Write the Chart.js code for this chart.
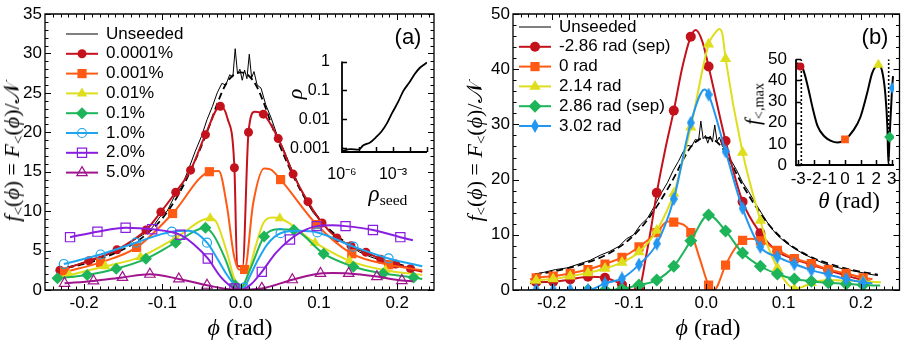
<!DOCTYPE html>
<html>
<head>
<meta charset="utf-8">
<script src="https://cdn.jsdelivr.net/npm/chart.js@4.4.1/dist/chart.umd.min.js"></script>
<style>
  html, body { margin: 0; padding: 0; background: #fff; }
  #wrap { position: relative; width: 906px; height: 342px; overflow: hidden; }
  canvas { position: absolute; }
  .t { position: absolute; white-space: nowrap; color: #000; transform: translate(-50%, -50%);
       font-family: "Liberation Serif", "DejaVu Serif", serif; }
  .rot { transform: translate(-50%, -50%) rotate(-90deg); }
  .t sub { font-size: 68%; vertical-align: -0.28em; line-height: 0; }
  .lab { position: absolute; transform: translate(-50%, -50%); font-family: "Liberation Sans", Arial, sans-serif; font-size: 22px; }
</style>
</head>
<body>
<div id="wrap">
  <canvas id="ca" width="453" height="342" style="left:0;top:0"></canvas>
  <canvas id="cb" width="453" height="342" style="left:453px;top:0"></canvas>
  <canvas id="ia" width="160" height="170" style="left:280px;top:40px"></canvas>
  <canvas id="ib" width="160" height="175" style="left:746px;top:40px"></canvas>

  <div class="t rot" style="left:12px;top:152px;font-size:22px"><i>f</i><sub>&lt;</sub>(<i>ϕ</i>) = <i>F</i><sub>&lt;</sub>(<i>ϕ</i>)/𝒩</div>
  <div class="t rot" style="left:475px;top:152px;font-size:22px"><i>f</i><sub>&lt;</sub>(<i>ϕ</i>) = <i>F</i><sub>&lt;</sub>(<i>ϕ</i>)/𝒩</div>
  <div class="t" style="left:240px;top:327px;font-size:24px"><i>ϕ</i> (rad)</div>
  <div class="t" style="left:708px;top:327px;font-size:24px"><i>ϕ</i> (rad)</div>
  <div class="lab" style="left:408px;top:37px">(a)</div>
  <div class="lab" style="left:875px;top:37px">(b)</div>
  <div class="t rot" style="left:295px;top:94px;font-size:22px"><i>ρ</i></div>
  <div class="t" style="left:388px;top:194px;font-size:23px"><i>ρ</i><sub>seed</sub></div>
  <div class="t rot" style="left:753px;top:104px;font-size:21px"><i>f</i><sub>&lt;,max</sub></div>
  <div class="t" style="left:849px;top:201px;font-size:23px"><i>θ</i> (rad)</div>
</div>

<script>
// ---------- axis ticks ----------
const phiTicks = [-0.2, -0.1, 0, 0.1, 0.2];
const fTicksA = [0, 5, 10, 15, 20, 25, 30, 35];
const fTicksB = [0, 10, 20, 30, 40, 50];

// ---------- shared: unseeded run and its fit ----------
const phiUnseeded = [-0.222, -0.210, -0.195, -0.180, -0.165, -0.150, -0.137, -0.125, -0.113, -0.103, -0.094, -0.085,
  -0.076, -0.067, -0.058, -0.050, -0.043, -0.036, -0.030, -0.024, -0.019, -0.014, -0.010, -0.007, -0.004, -0.001,
  0.002, 0.005, 0.008, 0.011, 0.014, 0.017, 0.021, 0.026, 0.032, 0.039, 0.047, 0.055, 0.064, 0.073, 0.082, 0.092,
  0.102, 0.113, 0.125, 0.138, 0.152, 0.166, 0.181, 0.196, 0.210, 0.222];
const fUnseeded = [2.9, 3.2, 3.7, 4.0, 4.7, 5.4, 6.3, 7.0, 7.9, 9.3, 10.0, 11.8,
  13.0, 15.2, 17.6, 19.5, 21.6, 23.3, 25.0, 26.2, 26.0, 27.3, 27.0, 30.6, 27.4, 28.0,
  26.6, 27.9, 26.8, 29.9, 26.9, 27.7, 26.0, 25.6, 23.5, 21.8, 19.5, 17.8, 15.6, 13.6, 11.6, 9.9,
  8.7, 7.6, 6.6, 5.7, 4.8, 4.2, 3.7, 3.3, 2.9, 2.6];
const phiFit = [-0.222, -0.20, -0.18, -0.16, -0.14, -0.12, -0.10, -0.08, -0.06, -0.04, -0.03, -0.02, -0.01, 0,
  0.01, 0.02, 0.03, 0.04, 0.06, 0.08, 0.10, 0.12, 0.14, 0.16, 0.18, 0.20, 0.222];
const fFit = [2.8, 3.3, 3.9, 4.7, 5.7, 7.1, 9.1, 12.0, 16.0, 20.8, 23.6, 25.9, 27.2, 27.6,
  27.2, 25.9, 23.6, 20.8, 16.0, 12.0, 9.1, 7.1, 5.7, 4.7, 3.9, 3.3, 2.8];

// ---------- panel (a): seed fraction ----------
// marker points (x, y) and extra line-only points (ex, ey)
const a1x = [-0.231, -0.194, -0.158, -0.121, -0.102, -0.083, -0.064, -0.045, -0.026, -0.008, 0.010, 0.029, 0.048, 0.067, 0.086, 0.104, 0.123, 0.141, 0.160, 0.179, 0.198, 0.217];
const a1y = [2.5, 3.7, 5.1, 7.6, 9.9, 12.4, 15.2, 19.7, 23.3, 15.5, 20.0, 22.3, 19.2, 14.7, 11.2, 8.5, 6.6, 5.6, 4.8, 3.9, 3.3, 2.7];
const a1ex = [-0.017, -0.0045, 0.0025, 0.018, 0.232];
const a1ey = [21.8, 3.0, 3.0, 22.6, 2.3];

const a2x = [-0.225, -0.179, -0.133, -0.087, -0.040, 0.005, 0.051, 0.097, 0.142, 0.189];
const a2y = [2.3, 3.5, 5.4, 9.7, 15.0, 2.6, 14.0, 8.3, 4.6, 3.2];
const a2ex = [-0.028, -0.0175, -0.009, -0.002, 0.016, 0.030, 0.038, 0.232];
const a2ey = [15.1, 10.6, 4.6, 2.6, 11.0, 15.4, 15.3, 2.5];

const a3x = [-0.219, -0.173, -0.128, -0.083, -0.039, 0.004, 0.050, 0.095, 0.139, 0.185];
const a3y = [1.9, 3.0, 4.2, 6.6, 9.1, 0.3, 9.1, 6.0, 3.7, 2.5];
const a3ex = [-0.232, -0.031, -0.017, -0.009, 0.009, 0.019, 0.029, 0.040, 0.232];
const a3ey = [1.6, 8.6, 4.6, 1.7, 1.8, 5.5, 8.5, 9.2, 1.9];

const a4x = [-0.234, -0.196, -0.159, -0.121, -0.083, -0.045, -0.007, 0.030, 0.068, 0.106, 0.144, 0.182, 0.221];
const a4y = [1.5, 1.9, 2.7, 3.95, 6.0, 7.9, 0.6, 6.8, 7.6, 4.6, 2.95, 2.1, 1.6];
const a4ex = [-0.035, -0.020, -0.001, 0.012, 0.047, 0.232];
const a4ey = [7.0, 4.0, 0.1, 2.6, 7.7, 1.4];

const a5x = [-0.226, -0.179, -0.134, -0.088, -0.043, 0.004, 0.051, 0.098, 0.144, 0.189];
const a5y = [3.3, 4.5, 6.0, 7.4, 6.0, 0.3, 7.2, 7.3, 5.5, 4.0];
const a5ex = [-0.066, -0.030, -0.018, -0.008, 0.012, 0.022, 0.034, 0.075, 0.232];
const a5ey = [7.5, 4.0, 2.0, 0.7, 1.8, 3.8, 5.8, 7.5, 3.0];

const a6x = [-0.218, -0.183, -0.147, -0.113, -0.077, -0.042, -0.008, 0.027, 0.063, 0.097, 0.134, 0.169, 0.204];
const a6y = [6.7, 7.4, 7.9, 7.7, 7.0, 4.0, 0.2, 2.3, 6.4, 8.1, 8.1, 7.6, 6.7];
const a6ex = [-0.060, -0.025, 0.000, 0.014, 0.045, 0.080, 0.117, 0.220];
const a6ey = [5.8, 1.6, 0.0, 0.8, 4.7, 7.5, 8.2, 6.3];

const a7x = [-0.225, -0.188, -0.151, -0.116, -0.079, -0.043, -0.007, 0.027, 0.066, 0.102, 0.138, 0.174, 0.206];
const a7y = [0.85, 1.15, 1.6, 2.0, 1.4, 0.6, 0.05, 0.2, 1.3, 2.1, 2.1, 1.7, 1.2];
const a7ex = [0.118, 0.220];
const a7ey = [2.15, 1.1];

// ---------- panel (b): seed angle ----------
const phiGridB = [-0.220, -0.198, -0.176, -0.153, -0.131, -0.109, -0.087, -0.064, -0.042, -0.020,
  0.003, 0.025, 0.047, 0.070, 0.092, 0.114, 0.136, 0.158, 0.181, 0.203];
const b1y = [1.4, 1.5, 1.9, 2.4, 2.2, 1.0, 0.2, 17.6, 32.5, 45.9, 40.5, 27.0, 16.0, 10.3, 7.0, 5.6, 4.6, 3.6, 2.6, 1.8];
const b1ex = [-0.228, -0.096, -0.078, -0.071, -0.053, -0.031, -0.0135, -0.005, 0.213];
const b1ey = [1.2, 0.0, 6.0, 11.5, 25.5, 40.3, 47.1, 45.0, 1.5];
const b2y = [2.2, 2.5, 3.0, 3.7, 4.7, 5.9, 7.8, 10.4, 12.3, 10.4, 0.9, 4.5, 9.0, 8.9, 7.2, 5.7, 4.8, 3.7, 3.0, 2.2];
const b2ex = [-0.228, -0.050, -0.008, 0.010, 0.036, 0.058, 0.215];
const b2ey = [1.9, 12.4, 5.5, 0.0, 7.3, 9.3, 2.0];
const b3y = [1.7, 2.0, 2.5, 3.1, 3.9, 5.0, 6.9, 10.8, 17.5, 29.5, 44.5, 41.9, 24.9, 12.6, 4.0, 0.2, 1.3, 1.8, 1.7, 1.6];
const b3ex = [-0.228, 0.011, 0.017, 0.021, 0.080, 0.104, 0.125, 0.226];
const b3ey = [1.4, 46.5, 47.3, 46.3, 7.8, 1.3, 0.6, 1.4];
const b4y = [null, null, null, 0.0, 0.0, 0.2, 0.9, 1.8, 4.3, 8.9, 13.6, 10.7, 6.7, 4.3, 2.9, 2.0, 1.6, 1.3, 1.1, 0.9];
const b4ex = [0.225];
const b4ey = [0.8];
const b5y = [0.0, 0.0, 0.0, 0.0, 1.2, 2.1, 4.6, 8.4, 16.5, 30.3, 35.4, 25.1, 14.8, 7.8, 6.0, 4.7, 3.6, 2.8, 2.0, 1.4];
const b5ex = [-0.228, -0.002, 0.215];
const b5ey = [0.0, 36.3, 1.2];

// ---------- inset (a): rho vs rho_seed ----------
const rhoSeed = [1e-6, 3.1e-6, 9.3e-6, 1.8e-5, 4.5e-5, 9.5e-5, 2.1e-4, 4.3e-4, 9.1e-4, 2.0e-3, 4.0e-3, 9.8e-3, 1.9e-2, 3.7e-2, 7.2e-2, 1e-1];
const rhoFrac = [0.00079, 0.00093, 0.00089, 0.00126, 0.00158, 0.00234, 0.0038, 0.0071, 0.017, 0.040, 0.095, 0.20, 0.37, 0.60, 0.81, 0.93];
const rhoSeedDecades = [1e-6, 1e-5, 1e-4, 1e-3, 1e-2, 1e-1];
const rhoSeedLabelAt = [1e-6, 1e-3];
const rhoSeedLabels = ['10⁻⁶', '10⁻³'];
const rhoTicks = [0.001, 0.01, 0.1, 1];
const rhoLabels = ['0.001', '0.01', '0.1', '1'];

// ---------- inset (b): peak height vs seed angle ----------
const thetaCurve = [-3.10, -2.97, -2.86, -2.70, -2.38, -2.06, -1.75, -1.33, -0.90, -0.48, 0.00, 0.57, 0.99, 1.42, 1.73, 2.01, 2.14, 2.37, 2.58, 2.72, 2.78, 2.86, 3.02, 3.08];
const fmaxCurve = [48.0, 47.7, 46.5, 45.5, 37.0, 26.5, 18.2, 13.6, 11.4, 10.6, 12.0, 16.7, 22.7, 34.0, 43.2, 47.0, 47.4, 44.7, 34.0, 17.4, 0.9, 13.2, 36.4, 42.0];
const thetaMark = [-2.86, 0, 2.14, 2.86, 3.02];
const fmaxMark = [46.5, 12.1, 47.4, 13.2, 36.4];
const sepTheta = [-2.80, 2.80];
const thetaTicks = [-3, -2, -1, 0, 1, 2, 3];
const fmaxTicks = [0, 10, 20, 30, 40, 50];

// ---------- colours ----------
const RED = '#c4121c', ORANGE = '#ff5a14', YELLOW = '#dede1c', GREEN = '#1eb45a',
      SKY = '#1ea5f0', VIOLET = '#8a1ee0', PURPLE = '#a0148c', BLUE = '#2396f0';
const SANS = '"Liberation Sans", Arial, sans-serif';

function thinDiamond(color, w, h) {
  const c = document.createElement('canvas');
  c.width = w; c.height = h;
  const g = c.getContext('2d');
  g.fillStyle = color;
  g.beginPath();
  g.moveTo(w / 2, 0); g.lineTo(w, h / 2); g.lineTo(w / 2, h); g.lineTo(0, h / 2);
  g.closePath(); g.fill();
  return c;
}

function pts(mx, my, ex, ey) {
  const p = [];
  mx.forEach((x, i) => { if (my[i] !== null) p.push({ x, y: my[i], m: true }); });
  (ex || []).forEach((x, i) => p.push({ x, y: ey[i], m: false }));
  return p.sort((a, b) => a.x - b.x);
}

function series(label, data, st) {
  return {
    label, data,
    borderColor: st.color, borderWidth: 2,
    pointStyle: st.shape, markR: st.r,
    pointRadius: c => (c.raw && c.raw.m ? st.r : 0),
    pointBackgroundColor: st.open ? 'rgba(0,0,0,0)' : st.color,
    pointBorderColor: st.color, pointBorderWidth: st.open ? 1.2 : 0,
    cubicInterpolationMode: 'monotone', order: st.order
  };
}

function blackLines() {
  return [
    { label: 'Unseeded', data: phiUnseeded.map((x, i) => ({ x, y: fUnseeded[i] })), borderColor: '#000',
      borderWidth: 1, pointRadius: 0, tension: 0, order: 20, noMarker: true },
    { label: '', data: phiFit.map((x, i) => ({ x, y: fFit[i] })), borderColor: '#000', borderWidth: 1.8,
      borderDash: [7, 4], pointRadius: 0, cubicInterpolationMode: 'monotone', order: 19 }
  ];
}

// inward ticks and frame
const frame = {
  id: 'frame',
  afterDatasetsDraw(chart, args, o) {
    const { ctx, chartArea: a } = chart;
    const sx = chart.scales.x, sy = chart.scales.y;
    ctx.save();
    ctx.strokeStyle = '#000';
    ctx.lineWidth = o.width;
    ctx.beginPath();
    if (o.box) {
      ctx.rect(a.left, a.top, a.right - a.left, a.bottom - a.top);
    } else {
      ctx.moveTo(a.left, a.top); ctx.lineTo(a.left, a.bottom); ctx.lineTo(a.right, a.bottom);
    }
    ctx.stroke();
    ctx.lineWidth = o.tickWidth;
    ctx.beginPath();
    const mark = (scale, vals, len) => vals.forEach(v => {
      const p = Math.round(scale.getPixelForValue(v)) + 0.5;
      if (scale === sx) {
        ctx.moveTo(p, a.bottom); ctx.lineTo(p, a.bottom - len);
        if (o.box) { ctx.moveTo(p, a.top); ctx.lineTo(p, a.top + len); }
      } else {
        ctx.moveTo(a.left, p); ctx.lineTo(a.left + len, p);
        if (o.box) { ctx.moveTo(a.right, p); ctx.lineTo(a.right - len, p); }
      }
    });
    mark(sx, o.xMajor, o.major); mark(sx, o.xMinor, o.minor);
    mark(sy, o.yMajor, o.major); mark(sy, o.yMinor, o.minor);
    ctx.stroke();
    ctx.restore();
  }
};

// legend with line + marker
const legendMarks = {
  id: 'legendMarks',
  afterDraw(chart, args, o) {
    const ctx = chart.ctx;
    chart.data.datasets.filter(d => d.label).forEach((d, i) => {
      const y = o.y + i * o.dy, xm = (o.x0 + o.x1) / 2;
      ctx.save();
      ctx.strokeStyle = d.borderColor; ctx.lineWidth = d.borderWidth;
      ctx.beginPath(); ctx.moveTo(o.x0, y); ctx.lineTo(o.x1, y); ctx.stroke();
      if (!d.noMarker) {
        ctx.fillStyle = d.pointBackgroundColor; ctx.strokeStyle = d.pointBorderColor;
        ctx.lineWidth = d.pointBorderWidth;
        Chart.helpers.drawPoint(ctx, { pointStyle: d.pointStyle, radius: d.markR, borderWidth: d.pointBorderWidth, rotation: 0 }, xm, y);
      }
      ctx.fillStyle = '#000'; ctx.font = o.font; ctx.textBaseline = 'middle';
      ctx.fillText(d.label, o.tx, y);
      ctx.restore();
    });
  }
};

const xMinor = [];
for (let k = -24; k <= 24; k++) if (k % 10) xMinor.push(k / 100);
const yMinorA = [];
for (let k = 0; k <= 35; k++) if (k % 5) yMinorA.push(k);
const yMinorB = [];
for (let k = 0; k <= 50; k += 2) if (k % 10) yMinorB.push(k);

function mainChart(id, datasets, o) {
  return new Chart(document.getElementById(id), {
    type: 'line',
    data: { datasets },
    options: {
      responsive: false, animation: false, events: [],
      layout: { padding: { left: 0, right: o.padRight, top: 14, bottom: 0 } },
      plugins: {
        legend: { display: false }, tooltip: { enabled: false },
        frame: { box: true, width: 1.3, tickWidth: 1, major: 6, minor: 3.5,
                 xMajor: phiTicks, xMinor: xMinor, yMajor: o.yTicks, yMinor: o.yMinor },
        legendMarks: { x0: 66, x1: 98, tx: 106, y: o.legendTop, dy: 19.8, font: '17px ' + SANS }
      },
      scales: {
        x: {
          type: 'linear', min: o.xMin, max: o.xMax,
          grid: { display: false, drawTicks: false }, border: { display: false },
          afterBuildTicks: s => { s.ticks = phiTicks.map(v => ({ value: v })); },
          afterFit: s => { s.height = 52; },
          ticks: { padding: 3, color: '#000', font: { family: SANS, size: 17 }, maxRotation: 0, autoSkip: false,
                   callback: v => Number(v).toFixed(1) }
        },
        y: {
          min: 0, max: o.yMax,
          grid: { display: false, drawTicks: false }, border: { display: false },
          afterBuildTicks: s => { s.ticks = o.yTicks.map(v => ({ value: v })); },
          afterFit: s => { s.width = o.yWidth; },
          ticks: { padding: 3, color: '#000', font: { family: SANS, size: 17 }, autoSkip: false,
                   callback: v => String(v) }
        }
      }
    },
    plugins: [frame, legendMarks]
  });
}

// panel (a)
mainChart('ca', [
  ...blackLines(),
  series('0.0001%', pts(a1x, a1y, a1ex, a1ey), { color: RED, shape: 'circle', r: 4.5, order: 7 }),
  series('0.001%', pts(a2x, a2y, a2ex, a2ey), { color: ORANGE, shape: 'rect', r: 6.5, order: 6 }),
  series('0.01%', pts(a3x, a3y, a3ex, a3ey), { color: YELLOW, shape: 'triangle', r: 6, order: 5 }),
  series('0.1%', pts(a4x, a4y, a4ex, a4ey), { color: GREEN, shape: 'rectRot', r: 6, order: 4 }),
  series('1.0%', pts(a5x, a5y, a5ex, a5ey), { color: SKY, shape: 'circle', r: 4.5, open: true, order: 3 }),
  series('2.0%', pts(a6x, a6y, a6ex, a6ey), { color: VIOLET, shape: 'rect', r: 6.5, open: true, order: 2 }),
  series('5.0%', pts(a7x, a7y, a7ex, a7ey), { color: PURPLE, shape: 'triangle', r: 6, open: true, order: 1 })
], { xMin: -0.25, xMax: 0.247, yMax: 35, yTicks: fTicksA, yMinor: yMinorA, yWidth: 45, padRight: 19, legendTop: 34 });

// panel (b)
const blueDiamond = thinDiamond(BLUE, 8, 14);
mainChart('cb', [
  ...blackLines(),
  series('-2.86 rad (sep)', pts(phiGridB, b1y, b1ex, b1ey), { color: RED, shape: 'circle', r: 5, order: 7 }),
  series('0 rad', pts(phiGridB, b2y, b2ex, b2ey), { color: ORANGE, shape: 'rect', r: 6.5, order: 6 }),
  series('2.14 rad', pts(phiGridB, b3y, b3ex, b3ey), { color: YELLOW, shape: 'triangle', r: 6.5, order: 5 }),
  series('2.86 rad (sep)', pts(phiGridB, b4y, b4ex, b4ey), { color: GREEN, shape: 'rectRot', r: 6.5, order: 4 }),
  series('3.02 rad', pts(phiGridB, b5y, b5ex, b5ey), { color: BLUE, shape: blueDiamond, r: 6, order: 3 })
], { xMin: -0.25, xMax: 0.25, yMax: 50, yTicks: fTicksB, yMinor: yMinorB, yWidth: 60, padRight: 4, legendTop: 27 });

// inset (a)
new Chart(document.getElementById('ia'), {
  type: 'line',
  data: { datasets: [{ data: rhoSeed.map((x, i) => ({ x, y: rhoFrac[i] })), borderColor: '#000', borderWidth: 1.8,
                       pointRadius: 0, cubicInterpolationMode: 'monotone' }] },
  options: {
    responsive: false, animation: false, events: [],
    layout: { padding: { left: 0, right: 13, top: 15, bottom: 0 } },
    plugins: {
      legend: { display: false }, tooltip: { enabled: false },
      frame: { box: false, width: 1.8, tickWidth: 1.5, major: 5, minor: 0,
               xMajor: rhoSeedDecades, xMinor: [], yMajor: rhoTicks, yMinor: [] }
    },
    scales: {
      x: {
        type: 'logarithmic', min: 1e-6, max: 1e-1,
        grid: { display: false, drawTicks: false }, border: { display: false },
        afterBuildTicks: s => { s.ticks = rhoSeedLabelAt.map(v => ({ value: v })); },
        afterFit: s => { s.height = 58; },
        ticks: { padding: 13, color: '#000', font: { family: SANS, size: 16 }, maxRotation: 0, autoSkip: false,
                 callback: (v, i) => rhoSeedLabels[i] }
      },
      y: {
        type: 'logarithmic', min: 7.4e-4, max: 1,
        grid: { display: false, drawTicks: false }, border: { display: false },
        afterBuildTicks: s => { s.ticks = rhoTicks.map(v => ({ value: v })); },
        afterFit: s => { s.width = 62; },
        ticks: { padding: 12, color: '#000', font: { family: SANS, size: 16 }, autoSkip: false,
                 callback: (v, i) => rhoLabels[i] }
      }
    }
  },
  plugins: [frame]
});

// inset (b)
const markStyles = ['circle', 'rect', 'triangle', 'rectRot', thinDiamond(BLUE, 7, 12)];
const markColors = [RED, ORANGE, YELLOW, GREEN, BLUE];
const markR = [4, 5.5, 6, 5.5, 5];
new Chart(document.getElementById('ib'), {
  type: 'line',
  data: { datasets: [
    { data: thetaMark.map((x, i) => ({ x, y: fmaxMark[i] })), showLine: false,
      pointStyle: markStyles, pointRadius: markR, pointBackgroundColor: markColors, pointBorderWidth: 0, order: 0 },
    { data: thetaCurve.map((x, i) => ({ x, y: fmaxCurve[i] })), borderColor: '#000', borderWidth: 2,
      pointRadius: 0, cubicInterpolationMode: 'monotone', order: 1 },
    ...sepTheta.map(t => ({ data: [{ x: t, y: fmaxTicks[0] }, { x: t, y: fmaxTicks[fmaxTicks.length - 1] }],
      borderColor: '#000', borderWidth: 1.6, borderDash: [2, 2], pointRadius: 0, order: 2 }))
  ] },
  options: {
    responsive: false, animation: false, events: [],
    layout: { padding: { left: 0, right: 12, top: 15, bottom: 0 } },
    plugins: {
      legend: { display: false }, tooltip: { enabled: false },
      frame: { box: false, width: 1.8, tickWidth: 1.5, major: 5, minor: 0,
               xMajor: thetaTicks, xMinor: [], yMajor: fmaxTicks, yMinor: [] }
    },
    scales: {
      x: {
        type: 'linear', min: -Math.PI, max: Math.PI,
        grid: { display: false, drawTicks: false }, border: { display: false },
        afterBuildTicks: s => { s.ticks = thetaTicks.map(v => ({ value: v })); },
        afterFit: s => { s.height = 50; },
        ticks: { padding: 4, color: '#000', font: { family: SANS, size: 17 }, maxRotation: 0, minRotation: 0, autoSkip: false,
                 callback: v => String(v) }
      },
      y: {
        min: 0, max: 50,
        grid: { display: false, drawTicks: false }, border: { display: false },
        afterBuildTicks: s => { s.ticks = fmaxTicks.map(v => ({ value: v })); },
        afterFit: s => { s.width = 50; },
        ticks: { padding: 9, color: '#000', font: { family: SANS, size: 17 }, autoSkip: false,
                 callback: v => String(v) }
      }
    }
  },
  plugins: [frame]
});
</script>
</body>
</html>
